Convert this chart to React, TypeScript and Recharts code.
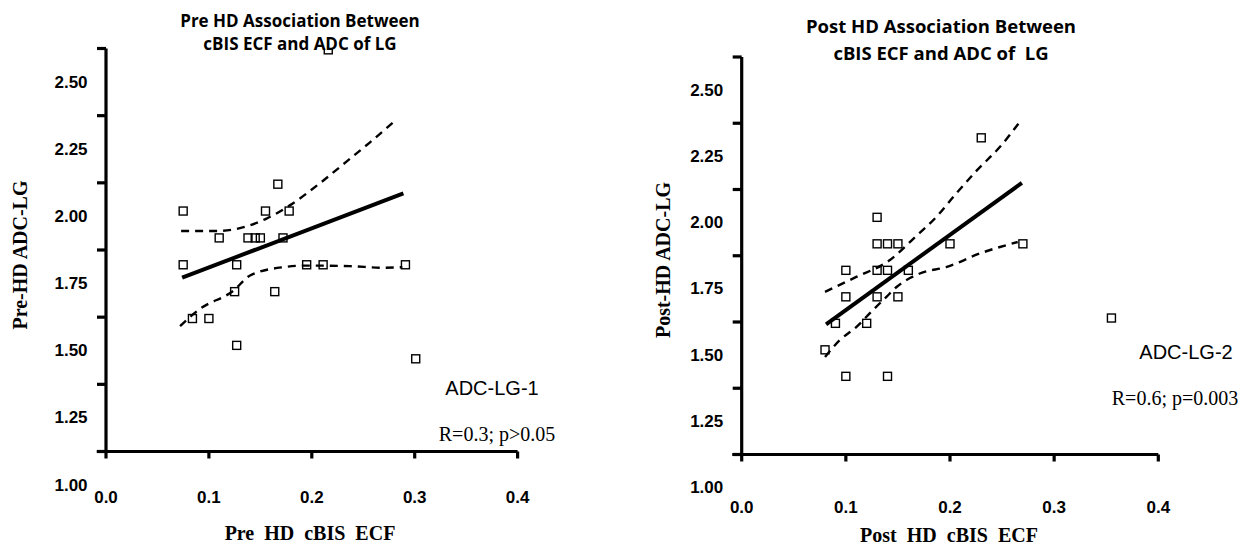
import { ComposedChart, Scatter, Line, XAxis, YAxis, ReferenceLine } from 'recharts'

// ---- data ----
const xTicks = [0, 0.1, 0.2, 0.3, 0.4]
const yLabels = [1.0, 1.25, 1.5, 1.75, 2.0, 2.25, 2.5]

const preX = [0.075, 0.167, 0.155, 0.178, 0.11, 0.138, 0.145, 0.15, 0.172, 0.075, 0.127, 0.195, 0.211, 0.291, 0.125, 0.164, 0.084, 0.1, 0.127, 0.301, 0.216]
const preY = [2.02, 2.12, 2.02, 2.02, 1.92, 1.92, 1.92, 1.92, 1.92, 1.82, 1.82, 1.82, 1.82, 1.82, 1.72, 1.72, 1.62, 1.62, 1.52, 1.47, 2.62]
const preFitX = [0.074, 0.289]
const preFitY = [1.772, 2.086]
const preUpperX = [0.073, 0.109, 0.14, 0.156, 0.179, 0.208, 0.234, 0.256, 0.282]
const preUpperY = [1.946, 1.946, 1.967, 1.992, 2.042, 2.124, 2.205, 2.274, 2.36]
const preLowerX = [0.072, 0.091, 0.124, 0.14, 0.172, 0.195, 0.237, 0.269, 0.288]
const preLowerY = [1.592, 1.655, 1.724, 1.78, 1.811, 1.817, 1.815, 1.809, 1.811]

const postX = [0.23, 0.13, 0.13, 0.14, 0.15, 0.2, 0.27, 0.1, 0.13, 0.14, 0.16, 0.1, 0.13, 0.15, 0.09, 0.12, 0.08, 0.1, 0.14, 0.355]
const postY = [2.32, 2.02, 1.92, 1.92, 1.92, 1.92, 1.92, 1.82, 1.82, 1.82, 1.82, 1.72, 1.72, 1.72, 1.62, 1.62, 1.52, 1.42, 1.42, 1.64]
const postFitX = [0.081, 0.269]
const postFitY = [1.616, 2.15]
const postUpperX = [0.08, 0.11, 0.142, 0.165, 0.187, 0.206, 0.226, 0.248, 0.267]
const postUpperY = [1.739, 1.795, 1.858, 1.94, 2.022, 2.11, 2.198, 2.286, 2.38]
const postLowerX = [0.08, 0.094, 0.11, 0.126, 0.139, 0.149, 0.171, 0.197, 0.229, 0.265]
const postLowerY = [1.493, 1.556, 1.606, 1.67, 1.72, 1.758, 1.808, 1.833, 1.884, 1.927]

const zip = (xs: number[], ys: number[]) => xs.map((x, i) => ({ x, y: ys[i] }))

// tick marks sit half a step above the value labels in the original figure
const HALF = 0.125
const yTicks = yLabels.map((v) => v + HALF)
const Y_DOMAIN: [number, number] = [yTicks[0], yTicks[yTicks.length - 1]]
const TICK = 6
const AXIS_W = 3.2

const tickFont = { fontFamily: '"Liberation Sans", Arial, sans-serif', fontWeight: 700, fontSize: 17 }

const Square = (props: any) => {
  const { cx, cy } = props
  if (cx == null || cy == null) return null
  return <rect x={cx - 4} y={cy - 4} width={8} height={8} fill="none" stroke="#000" strokeWidth={1.4} />
}

interface PanelProps {
  width: number
  height: number
  margin: { top: number; right: number; bottom: number; left: number }
  yAxisWidth: number
  xLabelDy: number
  points: Array<{ x: number; y: number }>
  fit: Array<{ x: number; y: number }>
  upper: Array<{ x: number; y: number }>
  lower: Array<{ x: number; y: number }>
}

function Panel({ width, height, margin, yAxisWidth, xLabelDy, points, fit, upper, lower }: PanelProps) {
  const plotH = height - margin.top - margin.bottom - 60
  const labelShift = (plotH * HALF) / (Y_DOMAIN[1] - Y_DOMAIN[0])

  // custom ticks draw their own tick mark (x/y arrive offset by tickSize)
  const XTick = ({ x, y, payload }: any) => (
    <g>
      <line x1={x} x2={x} y1={y - TICK} y2={y + 1} stroke="#000" strokeWidth={AXIS_W} />
      <text x={x} y={y + xLabelDy} textAnchor="middle" dominantBaseline="central" fill="#000" {...tickFont}>
        {Number(payload.value).toFixed(1)}
      </text>
    </g>
  )
  const YTick = ({ x, y, payload }: any) => (
    <g>
      <line x1={x - 3} x2={x + TICK} y1={y} y2={y} stroke="#000" strokeWidth={AXIS_W} />
      <text x={x - 29} y={y + labelShift} textAnchor="middle" dominantBaseline="central" fill="#000" {...tickFont}>
        {(Number(payload.value) - HALF).toFixed(2)}
      </text>
    </g>
  )

  return (
    <ComposedChart width={width} height={height} margin={margin}>
      <XAxis
        type="number"
        dataKey="x"
        domain={[0, 0.4]}
        ticks={xTicks}
        allowDataOverflow
        height={60}
        axisLine={false}
        tickLine={false}
        tickSize={TICK}
        tickMargin={0}
        tick={<XTick />}
        interval={0}
      />
      <YAxis
        type="number"
        dataKey="y"
        domain={Y_DOMAIN}
        ticks={yTicks}
        allowDataOverflow
        width={yAxisWidth}
        axisLine={false}
        tickLine={false}
        tickSize={TICK}
        tickMargin={0}
        tick={<YTick />}
        interval={0}
      />
      <ReferenceLine x={0} stroke="#000" strokeWidth={AXIS_W} ifOverflow="visible" />
      <ReferenceLine
        segment={[{ x: -0.009, y: Y_DOMAIN[0] }, { x: 0.4, y: Y_DOMAIN[0] }]}
        stroke="#000"
        strokeWidth={AXIS_W}
        ifOverflow="visible"
      />
      <Line data={upper} dataKey="y" type="monotone" stroke="#000" strokeWidth={2.4} strokeDasharray="8 6" dot={false} isAnimationActive={false} />
      <Line data={lower} dataKey="y" type="monotone" stroke="#000" strokeWidth={2.4} strokeDasharray="8 6" dot={false} isAnimationActive={false} />
      <Line data={fit} dataKey="y" type="linear" stroke="#000" strokeWidth={4} dot={false} isAnimationActive={false} />
      <Scatter data={points} dataKey="y" shape={<Square />} isAnimationActive={false} />
    </ComposedChart>
  )
}

const titleFont = { fontFamily: '"Open Sans", sans-serif', fontWeight: 700, color: '#000' }
const serifBold = { fontFamily: '"Liberation Serif", "Times New Roman", serif', fontWeight: 700, fontSize: 20, color: '#000' }
const abs = (left: number, top: number) => ({ position: 'absolute' as const, left, top, transform: 'translate(-50%, -50%)', whiteSpace: 'nowrap' as const })

export default function App() {
  return (
    <div style={{ position: 'absolute', left: 0, top: 0, width: 1249, height: 546, background: '#fff', overflow: 'hidden' }}>
      <div style={{ position: 'absolute', left: 0, top: 0 }}>
        <Panel
          width={620}
          height={546}
          margin={{ top: 48.5, right: 102.4, bottom: 34.5, left: 0 }}
          yAxisWidth={106}
          xLabelDy={39.5}
          points={zip(preX, preY)}
          fit={zip(preFitX, preFitY)}
          upper={zip(preUpperX, preUpperY)}
          lower={zip(preLowerX, preLowerY)}
        />
      </div>
      <div style={{ position: 'absolute', left: 620, top: 0 }}>
        <Panel
          width={629}
          height={546}
          margin={{ top: 57, right: 90.7, bottom: 31.5, left: 0 }}
          yAxisWidth={121.7}
          xLabelDy={46.5}
          points={zip(postX, postY)}
          fit={zip(postFitX, postFitY)}
          upper={zip(postUpperX, postUpperY)}
          lower={zip(postLowerX, postLowerY)}
        />
      </div>

      {/* titles */}
      <div style={{ ...abs(300, 31.5), ...titleFont, fontSize: 17, lineHeight: '23px', textAlign: 'center' }}>
        Pre HD Association Between
        <br />
        cBIS ECF and ADC of LG
      </div>
      <div style={{ ...abs(941, 38.5), ...titleFont, fontSize: 18.5, lineHeight: '27px', textAlign: 'center', whiteSpace: 'pre' }}>
        {'Post HD Association Between\ncBIS ECF and ADC of  LG'}
      </div>

      {/* axis titles */}
      <div style={{ ...abs(20, 255), ...serifBold, transform: 'translate(-50%, -50%) rotate(-90deg)' }}>Pre-HD ADC-LG</div>
      <div style={{ ...abs(663, 260), ...serifBold, transform: 'translate(-50%, -50%) rotate(-90deg)' }}>Post-HD ADC-LG</div>
      <div style={{ ...abs(310, 533), ...serifBold, whiteSpace: 'pre' }}>{'Pre  HD  cBIS  ECF'}</div>
      <div style={{ ...abs(949, 535), ...serifBold, whiteSpace: 'pre' }}>{'Post  HD  cBIS  ECF'}</div>

      {/* annotations */}
      <div style={{ ...abs(492, 388), fontFamily: '"Liberation Sans", Arial, sans-serif', fontSize: 20 }}>ADC-LG-1</div>
      <div style={{ ...abs(497, 434), fontFamily: '"Liberation Serif", "Times New Roman", serif', fontSize: 20 }}>R=0.3; p&gt;0.05</div>
      <div style={{ ...abs(1186, 352), fontFamily: '"Liberation Sans", Arial, sans-serif', fontSize: 20 }}>ADC-LG-2</div>
      <div style={{ ...abs(1175, 398), fontFamily: '"Liberation Serif", "Times New Roman", serif', fontSize: 20 }}>R=0.6; p=0.003</div>
    </div>
  )
}
